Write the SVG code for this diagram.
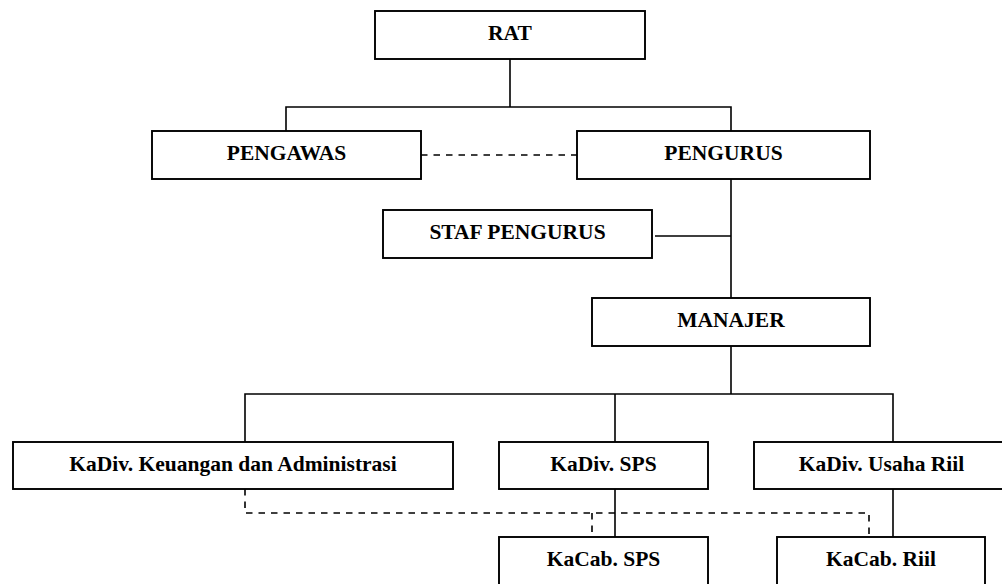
<svg xmlns="http://www.w3.org/2000/svg" width="1002" height="584" viewBox="0 0 1002 584">
<style>
.box{fill:#fff;stroke:#000;stroke-width:1.9}
.ln{fill:none;stroke:#000;stroke-width:1.6}
.dash{fill:none;stroke:#000;stroke-width:1.6;stroke-dasharray:6.5 6}
text{font-family:"Liberation Serif","Times New Roman",serif;font-weight:bold;font-size:21.5px;text-anchor:middle;fill:#000}
</style>
<rect width="1002" height="584" fill="#fff"/>
<g id="connectors">
<path class="ln" d="M510,59V107M286,131V107H731V131M731,179V298M655,236H731M731,346V394M245,442V394H893V442M615,394V442M615,489V537M893,489V537"/>
<path class="dash" d="M421,155H577M245,489V513H869V537M592,513V537"/>
</g>
<g id="rat"><rect class="box" x="375" y="11" width="270" height="48"/><text x="510" y="39.5">RAT</text></g>
<g id="pengawas"><rect class="box" x="152" y="131" width="269" height="48"/><text x="286.5" y="159.5">PENGAWAS</text></g>
<g id="pengurus"><rect class="box" x="577" y="131" width="293" height="48"/><text x="723.5" y="159.5">PENGURUS</text></g>
<g id="staf"><rect class="box" x="383" y="210" width="269" height="48"/><text x="517.5" y="238.5">STAF PENGURUS</text></g>
<g id="manajer"><rect class="box" x="592" y="298" width="278" height="48"/><text x="731" y="326.5">MANAJER</text></g>
<g id="kadiv-keu"><rect class="box" x="13" y="442" width="440" height="47"/><text x="233" y="470.5">KaDiv. Keuangan dan Administrasi</text></g>
<g id="kadiv-sps"><rect class="box" x="499" y="442" width="209" height="47"/><text x="603.5" y="470.5">KaDiv. SPS</text></g>
<g id="kadiv-riil"><rect class="box" x="754" y="442" width="255" height="47"/><text x="881.5" y="470.5">KaDiv. Usaha Riil</text></g>
<g id="kacab-sps"><rect class="box" x="499" y="537" width="209" height="52"/><text x="603.5" y="565.5">KaCab. SPS</text></g>
<g id="kacab-riil"><rect class="box" x="777" y="537" width="208" height="52"/><text x="881" y="565.5">KaCab. Riil</text></g>
</svg>
